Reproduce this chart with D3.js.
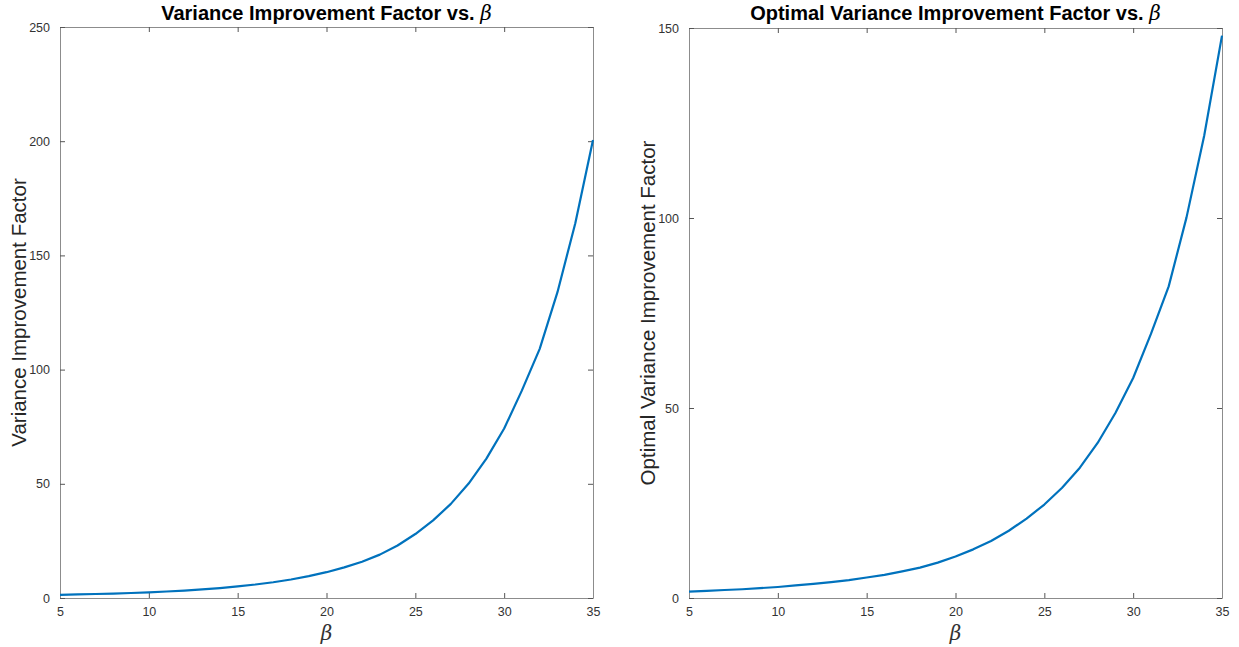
<!DOCTYPE html>
<html>
<head>
<meta charset="utf-8">
<script src="https://cdn.jsdelivr.net/npm/d3@7"></script>
<style>
  body { margin: 0; background: #fff; }
  svg { display: block; font-family: "Liberation Sans", Arial, sans-serif; }
</style>
</head>
<body>
<svg width="1239" height="647"></svg>
<script>
const svg = d3.select("svg");

// beta values 5..35
const betas = [5, 6, 7, 8, 9, 10, 11, 12, 13, 14, 15, 16, 17, 18, 19, 20,
               21, 22, 23, 24, 25, 26, 27, 28, 29, 30, 31, 32, 33, 34, 35];

// left panel: variance improvement factor
const varImprovement = [1.4, 1.55, 1.75, 1.95, 2.2, 2.5, 2.85, 3.25, 3.75, 4.35, 5.1,
                        5.9, 6.9, 8.1, 9.6, 11.3, 13.4, 15.9, 19.0, 23.0, 28.0,
                        34.0, 41.2, 50.1, 61.0, 74.2, 90.9, 109.1, 133.9, 164, 200.5];

// right panel: optimal variance improvement factor
const optVarImprovement = [1.7, 1.9, 2.1, 2.3, 2.6, 2.9, 3.3, 3.7, 4.2, 4.7, 5.4,
                           6.1, 7.0, 8.0, 9.3, 10.9, 12.8, 15.0, 17.7, 20.9, 24.6,
                           29.0, 34.3, 40.8, 48.7, 57.9, 69.5, 82.0, 100.1, 121.7, 148.0];

const xTicks = [5, 10, 15, 20, 25, 30, 35];
const leftYTicks = [0, 50, 100, 150, 200, 250];
const rightYTicks = [0, 50, 100, 150];

const panels = [
  { x0: 60, x1: 593, y0: 27, y1: 598, ymax: 250, yTicks: leftYTicks, values: varImprovement,
    title: "Variance Improvement Factor vs. ", ylabel: "Variance Improvement Factor" },
  { x0: 689, x1: 1222, y0: 28, y1: 598, ymax: 150, yTicks: rightYTicks, values: optVarImprovement,
    title: "Optimal Variance Improvement Factor vs. ", ylabel: "Optimal Variance Improvement Factor" }
];

panels.forEach(p => {
  const x = d3.scaleLinear().domain([5, 35]).range([p.x0, p.x1]);
  const y = d3.scaleLinear().domain([0, p.ymax]).range([p.y1, p.y0]);
  const g = svg.append("g");

  // axes (ticks pointing inward, mirrored on top/right)
  const styleAxis = sel => {
    sel.select(".domain").attr("stroke", "#8c8c8c");
    sel.selectAll(".tick line").attr("stroke", "#555");
    sel.selectAll(".tick text").attr("fill", "#333").attr("font-size", 12.5);
  };
  g.append("g").attr("transform", `translate(0,${p.y1})`)
    .call(d3.axisBottom(x).tickValues(xTicks).tickSizeInner(-5).tickSizeOuter(0).tickPadding(9))
    .call(styleAxis);
  g.append("g").attr("transform", `translate(0,${p.y0})`)
    .call(d3.axisTop(x).tickValues(xTicks).tickSizeInner(-5).tickSizeOuter(0).tickFormat(""))
    .call(styleAxis);
  g.append("g").attr("transform", `translate(${p.x0},0)`)
    .call(d3.axisLeft(y).tickValues(p.yTicks).tickSizeInner(-5).tickSizeOuter(0).tickPadding(10))
    .call(styleAxis);
  g.append("g").attr("transform", `translate(${p.x1},0)`)
    .call(d3.axisRight(y).tickValues(p.yTicks).tickSizeInner(-5).tickSizeOuter(0).tickFormat(""))
    .call(styleAxis);
  g.selectAll(".tick text").attr("font-family", "Liberation Sans, Arial, sans-serif");

  // curve
  const line = d3.line().x((d, i) => x(betas[i])).y(d => y(d));
  g.append("path")
    .datum(p.values)
    .attr("fill", "none")
    .attr("stroke", "#0072BD")
    .attr("stroke-width", 2.2)
    .attr("stroke-linejoin", "round")
    .attr("d", line);

  // title
  const t = g.append("text")
    .attr("x", (p.x0 + p.x1) / 2).attr("y", 20)
    .attr("text-anchor", "middle")
    .attr("font-size", 20).attr("font-weight", "bold").attr("fill", "#000");
  t.append("tspan").text(p.title);
  t.append("tspan").text("β")
    .attr("font-family", "DejaVu Serif, serif").attr("font-style", "italic").attr("font-weight", "normal")
    .attr("font-size", 20);

  // x label
  g.append("text")
    .attr("x", (p.x0 + p.x1) / 2).attr("y", 640)
    .attr("text-anchor", "middle")
    .attr("font-family", "DejaVu Serif, serif").attr("font-style", "italic")
    .attr("font-size", 20).attr("fill", "#333")
    .text("β");

  // y label
  g.append("text")
    .attr("transform", `translate(${p.x0 - 34},${(p.y0 + p.y1) / 2}) rotate(-90)`)
    .attr("text-anchor", "middle")
    .attr("font-size", 20.5).attr("fill", "#262626")
    .text(p.ylabel);
});
</script>
</body>
</html>
